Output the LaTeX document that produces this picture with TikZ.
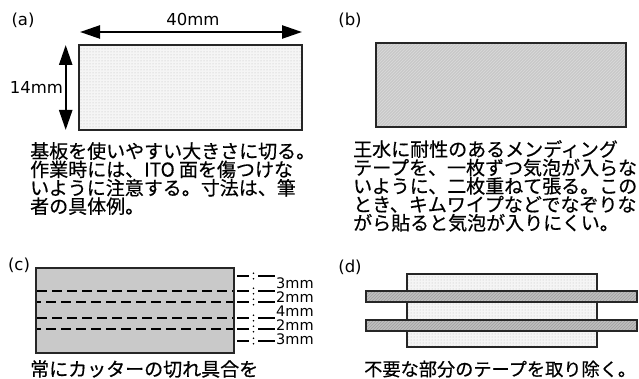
\documentclass[tikz,border=0pt]{standalone}
\usepackage{fontspec}
\setmainfont{Noto Sans CJK JP}
\newfontfamily\jpfont[FakeBold=0.5]{Noto Sans CJK JP}
\newfontfamily\latinf{DejaVu Sans}
\usetikzlibrary{arrows.meta,patterns}
\begin{document}
\begin{tikzpicture}[x=1pt,y=-1pt,
  boxline/.style={draw=black!85, line width=1.6pt},
  jtext/.style={font=\jpfont\fontsize{19}{18.4}\selectfont, align=left, anchor=north west, inner sep=0pt},
  lab/.style={font=\latinf\fontsize{16.5}{18}\selectfont, inner sep=0pt},
  mmlab/.style={font=\latinf\fontsize{14.5}{15}\selectfont, inner sep=0pt, anchor=west},
  dimarrow/.style={{Triangle[length=20pt,width=13pt]}-{Triangle[length=20pt,width=13pt]}, line width=2.4pt},
  cutline/.style={line width=1.5pt, dash pattern=on 10pt off 5pt},
  tick/.style={line width=2pt}]
\useasboundingbox (0,0) rectangle (639,379);
\fill[white] (0,0) rectangle (639,379);

% (a)
\node[lab] (la) at (23,20) {(a)};
\fill[gray!8] (79,45) rectangle (302,130);
\fill[pattern=dots, pattern color=gray!55] (79,45) rectangle (302,130);
\draw[boxline] (79,45) rectangle (302,130);
\coordinate (a40l) at (80,32);
\coordinate (a40r) at (302,32);
\draw[dimarrow] (a40l) -- (a40r);
\node[lab] (w40) at (193,19) {40mm};
\coordinate (a14t) at (65.7,45);
\coordinate (a14b) at (65.7,130);
\draw[dimarrow] (a14t) -- (a14b);
\node[lab] (h14) at (36.5,87) {14mm};
\node[jtext] (ta) at (30,142) {基板を使いやすい大きさに切る。\\作業時には、ITO 面を傷つけな\\いように注意する。寸法は、筆\\者の具体例。};

% (b)
\node[lab] (lb) at (350,20) {(b)};
\fill[gray!42] (376,43) rectangle (626,127);
\fill[pattern=north east lines, pattern color=gray!28] (376,43) rectangle (626,127);
\draw[boxline] (376,43) rectangle (626,127);
\node[jtext] (tb) at (353,140) {王水に耐性のあるメンディング\\テープを、一枚ずつ気泡が入らな\\いように、二枚重ねて張る。この\\とき、キムワイプなどでなぞりな\\がら貼ると気泡が入りにくい。};

% (c)
\node[lab] (lc) at (19,265) {(c)};
\fill[gray!42] (36,268) rectangle (234,353);
\draw[boxline] (36,268) rectangle (234,353);
\foreach \y/\ph in {291/0,302/6,318/0,329/6}{
  \draw[cutline, dash phase=\ph pt] (37,\y) -- (233,\y);
}
\foreach \y in {276,291,302,318,329,341}{
  \draw[tick] (237,\y) -- (249,\y);
  \draw[tick] (258,\y) -- (275,\y);
  \fill (253.5,\y-2.8) circle (0.9);
  \fill (253.5,\y+2.8) circle (0.9);
}
\node[mmlab] (m1) at (276,283.5) {3mm};
\node[mmlab] (m2) at (276,297) {2mm};
\node[mmlab] (m3) at (276,311) {4mm};
\node[mmlab] (m4) at (276,325) {2mm};
\node[mmlab] (m5) at (276,339) {3mm};
\node[jtext] (tc) at (30,360) {常にカッターの切れ具合を};

% (d)
\node[lab] (ld) at (350,267) {(d)};
\fill[gray!8] (407,274) rectangle (597,347);
\fill[pattern=dots, pattern color=gray!55] (407,274) rectangle (597,347);
\draw[boxline] (407,274) rectangle (597,347);
\foreach \t/\b in {291/302,320/331}{
  \fill[gray!50] (366,\t) rectangle (637,\b);
  \fill[pattern=north east lines, pattern color=gray!75] (366,\t) rectangle (637,\b);
  \draw[boxline] (366,\t) rectangle (637,\b);
}
\node[jtext, font=\jpfont\fontsize{18.2}{18.4}\selectfont] (td) at (364,360.5) {不要な部分のテープを取り除く。};
\end{tikzpicture}
\end{document}
